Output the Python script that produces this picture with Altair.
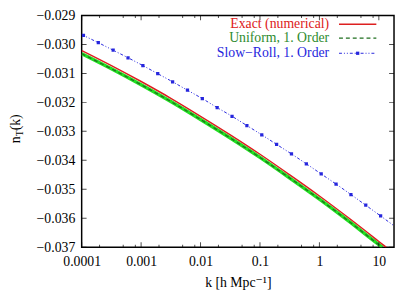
import altair as alt
import pandas as pd

# ---- data (log10 k, n_T) ----
logk_exact = [-4.0, -3.5, -3.0, -2.5, -2.0, -1.5, -1.0, -0.5, 0.0, 0.5, 1.0, 1.124]
n_exact = [-0.03021, -0.03073, -0.03128, -0.03186, -0.03248, -0.03312, -0.03379,
           -0.03450, -0.03523, -0.03600, -0.03680, -0.03700]

logk_uniform = [-4.0, -3.5, -3.0, -2.5, -2.0, -1.5, -1.0, -0.5, 0.0, 0.5, 1.0, 1.06]
n_uniform = [-0.03032, -0.03084, -0.03139, -0.03197, -0.03259, -0.03323, -0.03390,
             -0.03461, -0.03534, -0.03611, -0.03691, -0.03700]

logk_sr = [-4.0, -3.97, -3.72, -3.47, -3.22, -2.97, -2.72, -2.47, -2.22, -1.97, -1.72,
           -1.47, -1.22, -0.97, -0.72, -0.47, -0.22, 0.03, 0.28, 0.53, 0.78, 1.03, 1.255]
n_sr = [-0.02966, -0.02969, -0.02994, -0.03020, -0.03046, -0.03073, -0.03101, -0.03129,
        -0.03158, -0.03187, -0.03218, -0.03248, -0.03280, -0.03312, -0.03345, -0.03378,
        -0.03412, -0.03447, -0.03482, -0.03518, -0.03555, -0.03592, -0.03626]
sr_marker_flags = [0] + [1] * 21 + [0]

x_major = [0.0001, 0.001, 0.01, 0.1, 1, 10]
x_minor = [m * 10.0 ** e for e in range(-4, 1) for m in (2, 5, 8)]
y_ticks = [-0.037, -0.036, -0.035, -0.034, -0.033, -0.032, -0.031, -0.030, -0.029]
x_domain = [0.0001, 18.0]
y_domain = [-0.037, -0.029]

legend_labels = ["Exact (numerical)", "Uniform, 1. Order", "Slow\u2212Roll, 1. Order"]

RED = "#dd2020"
GREEN_TXT = "#2e8b2e"
GREEN_DASH = "#1f6f1f"
GREEN_BAND = "#22e022"
BLUE = "#2626dd"
FONT = "Liberation Serif, Times New Roman, DejaVu Serif, serif"

exact = pd.DataFrame({"k": [10 ** v for v in logk_exact], "n": n_exact})
uniform = pd.DataFrame({"k": [10 ** v for v in logk_uniform], "n": n_uniform})
sr = pd.DataFrame({"k": [10 ** v for v in logk_sr], "n": n_sr, "m": sr_marker_flags})

xs = alt.Scale(type="log", domain=x_domain, nice=False)
ys = alt.Scale(domain=y_domain, nice=False, zero=False)

X = alt.X("k:Q", scale=xs, title="k [h Mpc\u207b\u00b9]",
          axis=alt.Axis(values=x_major, format="~g", labelPadding=8, titlePadding=7))
Y = alt.Y("n:Q", scale=ys, title=None,
          axis=alt.Axis(values=y_ticks, format=".3f", labelPadding=7))

band = alt.Chart(uniform).mark_line(color=GREEN_BAND, strokeWidth=3.5, clip=True,
                                    interpolate="monotone").encode(x=X, y=Y)
dash = alt.Chart(uniform).mark_line(color=GREEN_DASH, strokeWidth=1.3, strokeDash=[4, 3],
                                    clip=True, interpolate="monotone").encode(x=X, y=Y)
red = alt.Chart(exact).mark_line(color=RED, strokeWidth=1.5, clip=True,
                                 interpolate="monotone").encode(x=X, y=Y)
blue = alt.Chart(sr).mark_line(color=BLUE, strokeWidth=1, strokeDash=[3, 2, 1, 2, 1, 2],
                               clip=True, interpolate="monotone").encode(x=X, y=Y)
blue_pts = alt.Chart(sr).transform_filter("datum.m == 1").mark_square(
    color=BLUE, size=11, opacity=1, clip=True).encode(x=X, y=Y)

# inward ticks (half of each tick is clipped away)
tb_major = pd.DataFrame({"k": x_major * 2, "n": [y_domain[0]] * 6 + [y_domain[1]] * 6})
tb_minor = pd.DataFrame({"k": x_minor * 2,
                         "n": [y_domain[0]] * len(x_minor) + [y_domain[1]] * len(x_minor)})
lr = pd.DataFrame({"k": [x_domain[0]] * len(y_ticks) + [x_domain[1]] * len(y_ticks),
                   "n": y_ticks * 2})
t1 = alt.Chart(tb_major).mark_tick(orient="vertical", size=10, thickness=1, color="black",
                                   clip=True).encode(x=X, y=Y)
t2 = alt.Chart(tb_minor).mark_tick(orient="vertical", size=5, thickness=1, color="black",
                                   clip=True).encode(x=X, y=Y)
t3 = alt.Chart(lr).mark_tick(orient="horizontal", size=10, thickness=1, color="black",
                             clip=True).encode(x=X, y=Y)

# legend (manual, text left of sample)
rows_y = [9, 23, 38.5]
colors_txt = [RED, GREEN_TXT, BLUE]
leg = []
for lab, cy, col in zip(legend_labels, rows_y, colors_txt):
    leg.append(alt.Chart(pd.DataFrame({"t": [lab]})).mark_text(
        align="right", baseline="middle", font=FONT, fontSize=14, color=col).encode(
        text="t:N", x=alt.value(252), y=alt.value(cy)))
leg.append(alt.Chart().mark_rule(color=RED, strokeWidth=1.5).encode(
    x=alt.value(262), x2=alt.value(300), y=alt.value(rows_y[0])))
leg.append(alt.Chart().mark_rule(color=GREEN_DASH, strokeWidth=1.3, strokeDash=[4, 3]).encode(
    x=alt.value(262), x2=alt.value(300), y=alt.value(rows_y[1])))
leg.append(alt.Chart().mark_rule(color=BLUE, strokeWidth=1, strokeDash=[3, 2, 1, 2, 1, 2]).encode(
    x=alt.value(262), x2=alt.value(300), y=alt.value(rows_y[2])))
leg.append(alt.Chart().mark_square(color=BLUE, size=11, opacity=1).encode(
    x=alt.value(281), y=alt.value(rows_y[2])))

# y title n_T(k)
ytitle = [
    alt.Chart(pd.DataFrame({"t": ["n"]})).mark_text(
        angle=270, align="left", baseline="alphabetic", font=FONT, fontSize=14, color="black"
    ).encode(text="t:N", x=alt.value(-63), y=alt.value(130)),
    alt.Chart(pd.DataFrame({"t": ["T"]})).mark_text(
        angle=270, align="left", baseline="alphabetic", font=FONT, fontSize=10, color="black"
    ).encode(text="t:N", x=alt.value(-60), y=alt.value(123)),
    alt.Chart(pd.DataFrame({"t": ["(k)"]})).mark_text(
        angle=270, align="left", baseline="alphabetic", font=FONT, fontSize=14, color="black"
    ).encode(text="t:N", x=alt.value(-63), y=alt.value(117)),
]

chart = alt.layer(band, dash, red, blue, blue_pts, t1, t2, t3, *leg, *ytitle).properties(
    width=318, height=236,
    autosize=alt.AutoSizeParams(type="none"),
    padding={"left": 75, "top": 5, "right": 1, "bottom": 45},
).configure(background="white").configure_view(
    stroke="black", strokeWidth=1.5
).configure_axis(
    tickSize=0, domain=False, grid=False, labelFont=FONT, titleFont=FONT,
    labelFontSize=14, titleFontSize=14, titleFontWeight="normal",
    labelColor="black", titleColor="black", labelFlush=False, labelOverlap=False,
)

chart.save("out.html", embed_options={"renderer": "svg", "actions": False})
